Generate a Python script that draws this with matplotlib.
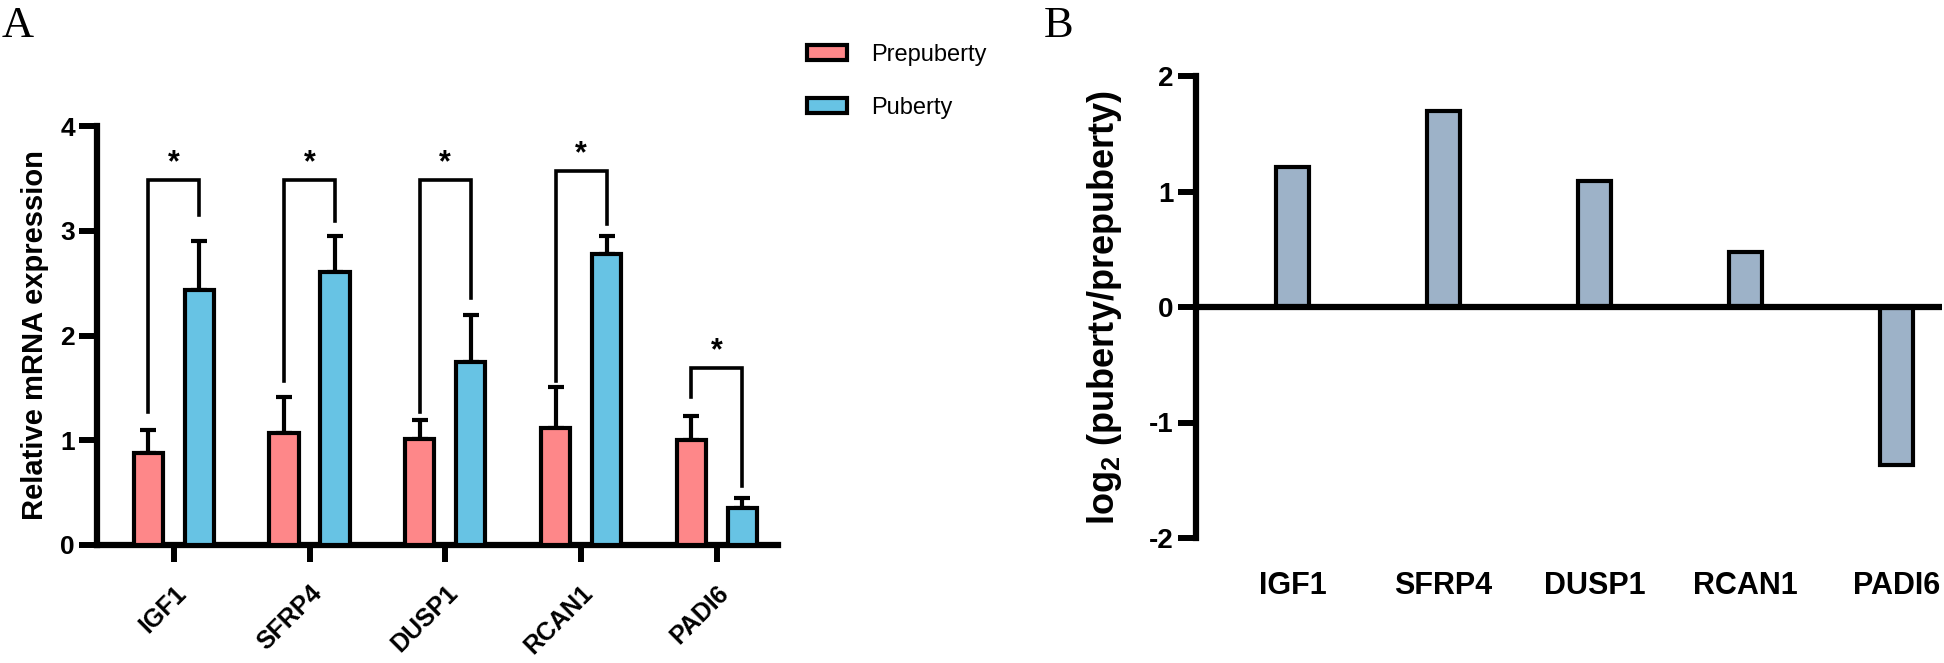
import numpy as np
import matplotlib
matplotlib.use('Agg')
import matplotlib.pyplot as plt
from matplotlib.patches import Patch

plt.rcParams['font.family'] = ['Liberation Sans', 'DejaVu Sans']
plt.rcParams['mathtext.fontset'] = 'custom'
plt.rcParams['mathtext.rm'] = 'Liberation Sans:bold'
plt.rcParams['mathtext.bf'] = 'Liberation Sans:bold'
plt.rcParams['axes.unicode_minus'] = False

genes = ['IGF1', 'SFRP4', 'DUSP1', 'RCAN1', 'PADI6']

# panel A: relative mRNA expression (mean, upper error)
pre_mean = [0.88, 1.07, 1.01, 1.12, 1.00]
pre_err = [0.22, 0.34, 0.18, 0.39, 0.23]
pub_mean = [2.43, 2.61, 1.75, 2.78, 0.35]
pub_err = [0.47, 0.34, 0.45, 0.17, 0.10]

# significance brackets: left leg bottom, top, right leg bottom
br_left = [1.27, 1.57, 1.27, 1.57, 1.41]
br_top = [3.48, 3.48, 3.48, 3.57, 1.69]
br_right = [3.15, 3.09, 2.36, 3.06, 0.56]

# panel B: log2 fold change
log2fc = [1.21, 1.70, 1.09, 0.48, -1.37]

pink = '#FE8789'
blue = '#67C3E4'
grey_blue = '#9DB2C8'

fig = plt.figure(figsize=(19.44, 6.63), dpi=100)
W, H = 1944, 663

# ---------- panel A ----------
axA = fig.add_axes([97 / W, (H - 545) / H, (778 - 97) / W, (545 - 126) / H])
x = np.arange(len(genes))
off = 0.188
bw = 0.215
axA.bar(x - off, pre_mean, bw, color=pink, edgecolor='black', linewidth=3, zorder=3)
axA.bar(x + off, pub_mean, bw, color=blue, edgecolor='black', linewidth=3, zorder=3)
axA.errorbar(x - off, pre_mean, yerr=[np.zeros(5), pre_err], fmt='none',
             ecolor='black', elinewidth=3, capsize=6, capthick=3, zorder=2)
axA.errorbar(x + off, pub_mean, yerr=[np.zeros(5), pub_err], fmt='none',
             ecolor='black', elinewidth=3, capsize=6, capthick=3, zorder=2)

for i in range(len(genes)):
    xl, xr = x[i] - off, x[i] + off
    axA.plot([xl, xl, xr, xr], [br_left[i], br_top[i], br_top[i], br_right[i]],
             color='black', lw=2.6, solid_joinstyle='miter', zorder=4)
    axA.text(x[i], br_top[i] + 0.02, '*', ha='center', va='bottom',
             fontsize=22, fontweight='bold', zorder=4)

axA.set_xlim(-0.565, 4.45)
axA.set_ylim(0, 4)
axA.set_yticks([0, 1, 2, 3, 4])
axA.set_xticks(x)
axA.set_xticklabels(genes, rotation=45, ha='right', rotation_mode='anchor',
                    fontsize=18, fontweight='bold')
for lab in axA.get_yticklabels():
    lab.set_fontweight('bold')
axA.tick_params(axis='y', labelsize=19, width=4.3, length=13, pad=3)
axA.tick_params(axis='x', width=4.3, length=12, pad=14)
for s in ['top', 'right']:
    axA.spines[s].set_visible(False)
for s in ['left', 'bottom']:
    axA.spines[s].set_linewidth(4.5)
axA.set_ylabel('Relative mRNA expression', fontsize=21, fontweight='bold', labelpad=8)

fig.text(2 / W, (H - 6) / H, 'A', family='Liberation Serif', fontsize=32,
         ha='left', va='top')

handles = [Patch(facecolor=pink, edgecolor='black', linewidth=3),
           Patch(facecolor=blue, edgecolor='black', linewidth=3)]
fig.legend(handles, ['Prepuberty', 'Puberty'], loc='upper left',
           bbox_to_anchor=(807 / W, (H - 44) / H), frameon=False, fontsize=17,
           handlelength=1.7, handleheight=0.6, handletextpad=1.0,
           labelspacing=1.3, borderpad=0, borderaxespad=0)

# ---------- panel B ----------
axB = fig.add_axes([1196 / W, (H - 538) / H, (1942 - 1196) / W, (538 - 76) / H])
axB.bar(x, log2fc, 0.22, color=grey_blue, edgecolor='black', linewidth=3, zorder=3)
axB.axhline(0, color='black', lw=4.5, zorder=4)
axB.set_xlim(-0.64, 4.30)
axB.set_ylim(-2, 2)
axB.set_yticks([-2, -1, 0, 1, 2])
axB.set_xticks(x)
axB.set_xticklabels(genes, fontsize=22, fontweight='bold')
for lab in axB.get_yticklabels():
    lab.set_fontweight('bold')
axB.tick_params(axis='y', labelsize=20, width=4.3, length=13, pad=3)
axB.tick_params(axis='x', length=0, pad=24)
for s in ['top', 'right', 'bottom']:
    axB.spines[s].set_visible(False)
axB.spines['left'].set_linewidth(4.5)
axB.set_ylabel(r'log$_2$ (puberty/prepuberty)', fontsize=26, fontweight='bold', labelpad=18)

fig.text(1044 / W, (H - 6) / H, 'B', family='Liberation Serif', fontsize=32,
         ha='left', va='top')

fig.savefig('out.png', dpi=100)
